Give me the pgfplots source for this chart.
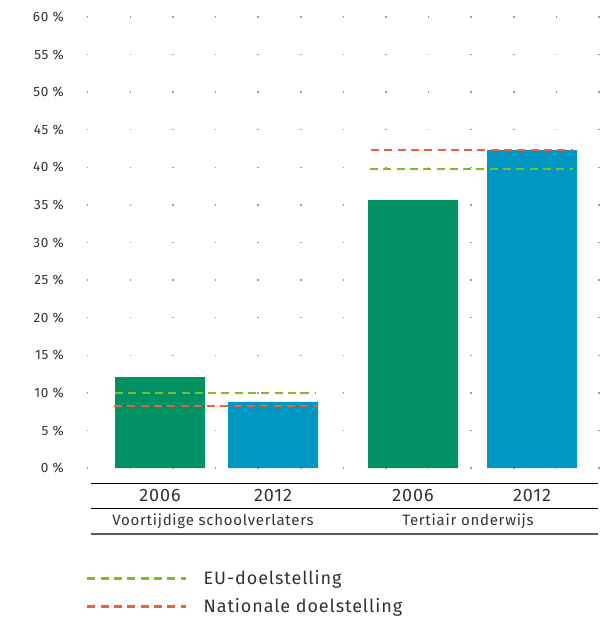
\documentclass[border=0pt]{standalone}
\usepackage{fontspec}
\setmainfont[LetterSpace=5]{Fira Sans}
\usepackage{pgfplots}
\pgfplotsset{compat=1.18}
\definecolor{barGreen}{RGB}{0,146,101}
\definecolor{barBlue}{RGB}{0,152,195}
\definecolor{euGreen}{RGB}{132,185,40}
\definecolor{natOrange}{RGB}{238,98,55}
\definecolor{txt}{RGB}{51,51,51}
\definecolor{dotgray}{RGB}{160,160,160}
\begin{document}
\begin{tikzpicture}
\begin{axis}[
  x=1pt, y=7.517pt,
  xmin=80, xmax=604, ymin=-1.995, ymax=62.26,
  clip=false,
  axis line style={draw=none},
  tick style={draw=none},
  unbounded coords=jump,
  ytick={0,5,...,60},
  yticklabels={0 \%,5 \%,10 \%,15 \%,20 \%,25 \%,30 \%,35 \%,40 \%,45 \%,50 \%,55 \%,60 \%},
  yticklabel style={font=\fontsize{13.5}{15}\selectfont, text=txt, anchor=east, inner sep=0pt, xshift=-16pt},
  xtick={160,273,413,532},
  xticklabels={2006,2012,2006,2012},
  xticklabel style={font=\fontsize{18}{20}\selectfont, text=txt, anchor=north, inner sep=0pt, yshift=-6pt},
  ymajorgrids,
  major grid style={dotgray, line width=1.5pt, dash pattern=on 1.5pt off 41.1pt, dash phase=35.6pt},
  legend style={draw=none, fill=none, at={(axis cs:86,-13.4)}, anchor=north west,
    font=\fontsize{18}{20}\selectfont, text=txt, row sep=8pt, inner sep=0pt,
    /tikz/every odd column/.append style={column sep=14pt}},
  legend cell align=left,
  legend image code/.code={\draw[#1] (0pt,0pt) -- (99pt,0pt);},
]
\addplot[ybar, bar width=90, bar shift=0pt, fill=barGreen, draw=none, forget plot] coordinates {(160,12.1) (413,35.65)};
\addplot[ybar, bar width=90, bar shift=0pt, fill=barBlue, draw=none, forget plot] coordinates {(273,8.8) (532,42.3)};
\addplot[euGreen, line width=2.5pt, dash pattern=on 8pt off 5.3pt] coordinates {(115,10) (316,10) (340,nan) (370,39.8) (573,39.8)};
\addlegendentry{EU-doelstelling}
\addplot[natOrange, line width=2.5pt, dash pattern=on 8pt off 5.3pt] coordinates {(114,8.25) (317,8.25) (340,nan) (371,42.3) (573,42.3)};
\addlegendentry{Nationale doelstelling}
\draw[black, line width=0.9pt] (axis cs:91,-1.995) -- (axis cs:598,-1.995);
\draw[black, line width=0.9pt] (axis cs:91,-5.32) -- (axis cs:598,-5.32);
\draw[gray!70!black, line width=1.4pt] (axis cs:91,-8.78) -- (axis cs:598,-8.78);
\node[font=\fontsize{15}{17}\selectfont, text=txt] at (axis cs:213,-7.05) {Voortijdige schoolverlaters};
\node[font=\fontsize{15}{17}\selectfont, text=txt] at (axis cs:468,-7.05) {Tertiair onderwijs};
\coordinate (BL) at (axis cs:0,-19.82);
\coordinate (TR) at (axis cs:604,62.26);
\end{axis}
\pgfresetboundingbox
\useasboundingbox (BL) rectangle (TR);
\end{tikzpicture}
\end{document}
